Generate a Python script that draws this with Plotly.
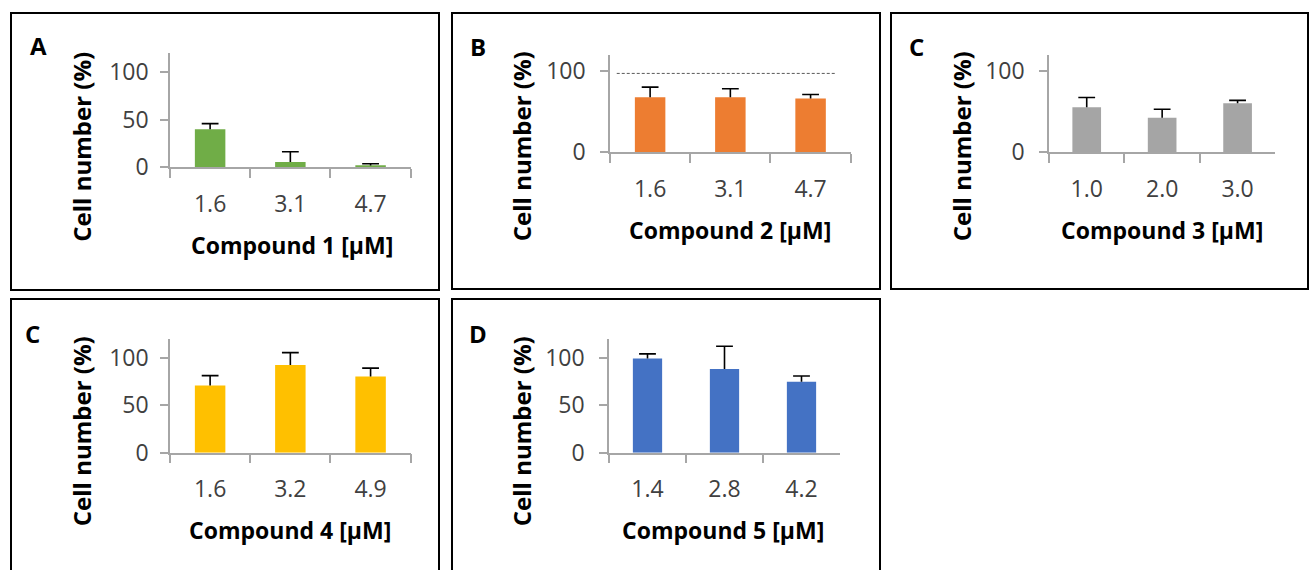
import plotly.graph_objects as go

W, H = 1310, 570

# ---------------- data ----------------
conc_1 = ["1.6", "3.1", "4.7"]
cell_1 = [40, 5.6, 1.8]
err_1 = [6, 10.8, 2]

conc_2 = ["1.6", "3.1", "4.7"]
cell_2 = [67.6, 67.6, 66]
err_2 = [12.5, 10.5, 5]
ref_2 = [97]  # dashed reference level

conc_3 = ["1.0", "2.0", "3.0"]
cell_3 = [55.3, 42.6, 60.3]
err_3 = [12, 10.3, 3.6]

conc_4 = ["1.6", "3.2", "4.9"]
cell_4 = [70.8, 92.6, 80.3]
err_4 = [10.5, 13, 9]

conc_5 = ["1.4", "2.8", "4.2"]
cell_5 = [99.3, 88.4, 75]
err_5 = [5, 24, 6]

x_titles = ["Compound 1 [µM]", "Compound 2 [µM]", "Compound 3 [µM]",
            "Compound 4 [µM]", "Compound 5 [µM]"]
panel_letters = ["A", "B", "C", "C", "D"]
y_title = "Cell number (%)"

colors = ["#70AD47", "#ED7D31", "#A5A5A5", "#FFC000", "#4472C4"]

# ---------------- layout helpers (pixel -> paper) ----------------
def px(x):
    return x / W

def py(y):
    return 1 - y / H

# plot areas: (x0, x1, y_zero, y_top) in pixels
areas = [
    (170, 410.7, 167.3, 53.3),
    (610, 850.7, 152.3, 54.7),
    (1049, 1275.3, 152.3, 54.7),
    (170, 410.7, 452.7, 339.0),
    (609, 840, 452.7, 339.0),
]
ytickvals = [[0, 50, 100], [0, 100], [0, 100], [0, 50, 100], [0, 50, 100]]
ystandoff = [7, 10, 10, 7, 10]

panels = [
    (conc_1, cell_1, err_1),
    (conc_2, cell_2, err_2),
    (conc_3, cell_3, err_3),
    (conc_4, cell_4, err_4),
    (conc_5, cell_5, err_5),
]

fig = go.Figure()
layout = dict(
    width=W, height=H,
    margin=dict(l=0, r=0, t=0, b=0),
    paper_bgcolor="white", plot_bgcolor="white",
    showlegend=False, bargap=0.62,
    font=dict(family="Open Sans", color="#404040"),
)

tick_font = dict(family="Open Sans", size=23, color="#404040")
xtitle_font = dict(family="Open Sans", size=23, color="#000000")
ytitle_font = dict(family="Open Sans", size=24, color="#000000")

annotations = []
shapes = []

for i, ((cats, vals, errs), (x0, x1, yz, yt)) in enumerate(zip(panels, areas)):
    n = "" if i == 0 else str(i + 1)
    xa, ya = "x" + n, "y" + n
    fig.add_trace(go.Bar(
        x=cats, y=vals, xaxis=xa, yaxis=ya,
        marker=dict(color=colors[i], line=dict(width=0)),
        error_y=dict(type="data", array=errs, arrayminus=[0] * len(errs),
                     symmetric=False, color="#000000", thickness=1.6, width=0),
    ))
    # error-bar caps (plus side only)
    fig.add_trace(go.Scatter(
        x=cats, y=[v + e for v, e in zip(vals, errs)], xaxis=xa, yaxis=ya,
        mode="markers", hoverinfo="skip",
        marker=dict(symbol="line-ew", size=12, color="#000000",
                    line=dict(color="#000000", width=1.6)),
    ))
    layout["xaxis" + n] = dict(
        domain=[px(x0), px(x1)], anchor=ya, type="category",
        showline=True, linecolor="#A6A6A6", linewidth=1.5,
        ticks="outside", ticklen=9, tickcolor="#A6A6A6", tickwidth=1.5,
        tickson="boundaries", tickfont=tick_font, ticklabelstandoff=15,
        showgrid=False, zeroline=False, fixedrange=True, automargin=False,
    )
    layout["yaxis" + n] = dict(
        domain=[py(yz), py(yt)], anchor=xa, range=[0, 120],
        tickvals=ytickvals[i], showline=True, linecolor="#A6A6A6", linewidth=1.5,
        ticks="outside", ticklen=8, tickcolor="#A6A6A6", tickwidth=1.5,
        tickfont=tick_font, ticklabelstandoff=ystandoff[i],
        showgrid=False, zeroline=False, fixedrange=True, automargin=False,
    )

# dashed reference line in panel B
shapes.append(dict(type="line", xref="x2 domain", yref="y2",
                   x0=0.028, x1=0.942, y0=ref_2[0], y1=ref_2[0],
                   line=dict(color="#595959", width=1, dash="3px,2px")))

# axis titles & panel letters (pixel positions)
ytitle_pos = [(82, 146.7), (521.7, 146.5), (961.7, 146.5), (81.7, 431.5), (521.7, 431.5)]
xtitle_pos = [(291.7, 245), (730, 230), (1161.7, 230), (290, 530), (723.3, 530)]
letter_pos = [(38, 45), (478, 46.5), (917, 46.5), (32, 333), (478, 333)]

for i in range(5):
    annotations.append(dict(text="<b>%s</b>" % y_title, xref="paper", yref="paper",
                            x=px(ytitle_pos[i][0]), y=py(ytitle_pos[i][1]),
                            xanchor="center", yanchor="middle", showarrow=False,
                            textangle=-90, font=ytitle_font))
    annotations.append(dict(text="<b>%s</b>" % x_titles[i], xref="paper", yref="paper",
                            x=px(xtitle_pos[i][0]), y=py(xtitle_pos[i][1]),
                            xanchor="center", yanchor="middle", showarrow=False,
                            font=xtitle_font))
    annotations.append(dict(text="<b>%s</b>" % panel_letters[i], xref="paper", yref="paper",
                            x=px(letter_pos[i][0]), y=py(letter_pos[i][1]),
                            xanchor="center", yanchor="middle", showarrow=False,
                            font=dict(family="Open Sans", size=24, color="#000000")))

# panel borders (top row: full boxes; bottom row: open at the page bottom)
border_line = dict(color="#000000", width=2)
top_boxes = [(11, 13, 439, 290), (452, 13, 880, 289), (891, 13, 1308, 289)]
for (bx0, by0, bx1, by1) in top_boxes:
    shapes.append(dict(type="rect", xref="paper", yref="paper",
                       x0=px(bx0), x1=px(bx1), y0=py(by1), y1=py(by0),
                       line=border_line, fillcolor="rgba(0,0,0,0)"))
bottom_boxes = [(11, 299, 439), (452, 299, 880)]
for (bx0, by0, bx1) in bottom_boxes:
    path = "M %f,0 L %f,%f L %f,%f L %f,0" % (px(bx0), px(bx0), py(by0),
                                              px(bx1), py(by0), px(bx1))
    shapes.append(dict(type="path", xref="paper", yref="paper", path=path,
                       line=border_line))

layout["annotations"] = annotations
layout["shapes"] = shapes
fig.update_layout(**layout)

post = (
    "var gd=document.getElementById('{plot_id}');"
    "document.documentElement.style.cssText='margin:0;padding:0;overflow:hidden;height:570px;';"
    "document.body.style.cssText='margin:0;padding:0;overflow:hidden;height:570px;';"
    "gd.style.position='fixed';gd.style.left='0px';gd.style.top='0px';"
)
fig.write_html("out.html", config={"displayModeBar": False}, post_script=post)
